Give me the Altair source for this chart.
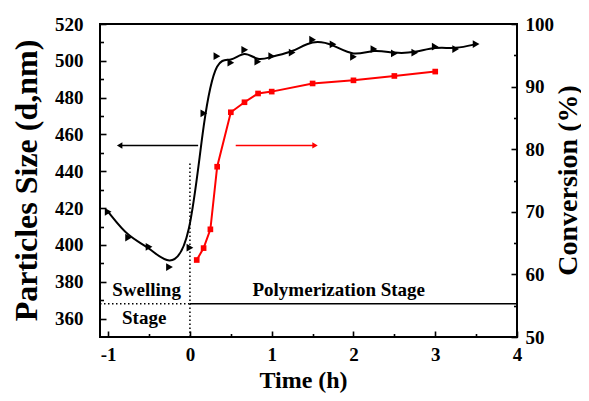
import altair as alt
import pandas as pd

FONT = "Liberation Serif, Times New Roman, serif"

# ---- data ----
time_size = [-1.0, -0.75, -0.5, -0.25, 0.0, 0.17, 0.33, 0.5, 0.67, 0.83, 1.0,
             1.25, 1.5, 1.75, 2.0, 2.25, 2.5, 2.75, 3.0, 3.25, 3.5]
particle_size = [418, 404, 399, 388, 398.5, 471.5, 502.5, 499, 506, 499.5, 502.5,
                 504.5, 511.5, 509, 502.2, 506.4, 504, 504.4, 507.7, 506.4, 509.1]

time_conv = [0.083, 0.167, 0.25, 0.333, 0.5, 0.667, 0.833, 1.0, 1.5, 2.0, 2.5, 3.0]
conversion = [62.3, 64.2, 67.2, 77.2, 85.9, 87.5, 88.9, 89.2, 90.5, 91.0, 91.7, 92.4]

# axis values
x_domain = [-1.1, 4]
size_domain = [350, 520]
conv_domain = [50, 100]
x_ticks = [-1, 0, 1, 2, 3, 4]
x_minor = [-0.5, 0.5, 1.5, 2.5, 3.5]
size_ticks = [360, 380, 400, 420, 440, 460, 480, 500, 520]
size_minor = [370, 390, 410, 430, 450, 470, 490, 510]
conv_ticks = [50, 60, 70, 80, 90, 100]
conv_minor = [55, 65, 75, 85, 95]

# annotations
black_arrow_t = [0.1, -0.86]      # tail, head
black_arrow_size = 454
red_arrow_t = [0.56, 1.53]        # tail, head
red_arrow_conv = 80.6
divider_t = 0
divider_top = 445
stage_line_size = 368
label_texts = ["Swelling", "Stage", "Polymerization Stage"]
label_t = [-0.53, -0.56, 1.82]
label_size = [375.3, 360.3, 375.3]

# ---- tables ----
df_size = pd.DataFrame({"t": time_size, "v": particle_size})
df_conv = pd.DataFrame({"t": time_conv, "v": conversion})
df_barrow = pd.DataFrame({"t": black_arrow_t, "v": [black_arrow_size] * 2})
df_rarrow = pd.DataFrame({"t": red_arrow_t, "v": [red_arrow_conv] * 2})
df_bhead = df_barrow.iloc[[1]]
df_rhead = df_rarrow.iloc[[1]]
df_vdiv = pd.DataFrame({"t": [divider_t], "v": [size_domain[0]], "v2": [divider_top]})
df_hdot = pd.DataFrame({"t": [x_domain[0]], "t2": [divider_t], "v": [stage_line_size]})
df_hsolid = pd.DataFrame({"t": [divider_t], "t2": [x_domain[1]], "v": [stage_line_size]})
df_text = pd.DataFrame({"t": label_t, "v": label_size, "txt": label_texts})

xs = alt.Scale(domain=x_domain, nice=False, zero=False)
ysL = alt.Scale(domain=size_domain, nice=False, zero=False)
ysR = alt.Scale(domain=conv_domain, nice=False, zero=False)


def axis(orient, values, labels=False, tick_size=0, offset=0, title=None, **kw):
    d = dict(orient=orient, values=values, labels=labels, domain=False, grid=False,
             labelFont=FONT, labelFontSize=19, labelFontWeight="bold",
             labelColor="black", labelFlush=False, labelExpr="'' + datum.value",
             tickColor="black", tickWidth=1.6, title=title,
             titleFont=FONT, titleFontWeight="bold", titleColor="black")
    if tick_size:
        d["ticks"] = True
        d["tickSize"] = tick_size
    else:
        d["ticks"] = False
    if offset:
        d["offset"] = offset
    d.update(kw)
    return alt.Axis(**d)


# bottom
ax_x_labels = axis("bottom", x_ticks, labels=True, labelPadding=8, title="Time (h)",
                   titleFontSize=24, titleX=203, titleY=43, titleBaseline="middle",
                   titleAlign="center")
ax_x_major = axis("bottom", x_ticks, tick_size=6, offset=-6)
ax_x_minor = axis("bottom", x_minor, tick_size=3.5, offset=-3.5)
# left
ax_l_labels = axis("left", size_ticks, labels=True, labelPadding=17,
                   title="Particles Size (d,nm)", titleFontSize=32, titleX=-74,
                   titleY=156, titleBaseline="middle", titleAlign="center", titleAngle=270)
ax_l_major = axis("left", size_ticks, tick_size=6, offset=-6)
ax_l_minor = axis("left", size_minor, tick_size=3.5, offset=-3.5)
# right
ax_r_labels = axis("right", conv_ticks, labels=True, labelPadding=8,
                   title="Conversion (%)", titleFontSize=28, titleX=51,
                   titleY=156, titleBaseline="middle", titleAlign="center", titleAngle=270)
ax_r_major = axis("right", conv_ticks, tick_size=6, offset=-6)
ax_r_minor = axis("right", conv_minor, tick_size=3.5, offset=-3.5)

black_line = alt.Chart(df_size).mark_line(color="black", strokeWidth=2, interpolate="basis").encode(
    x=alt.X("t:Q", scale=xs, axis=ax_x_labels),
    y=alt.Y("v:Q", scale=ysL, axis=ax_l_labels),
)
black_pts = alt.Chart(df_size).mark_point(shape="triangle-right", filled=True, size=60,
                                          color="black", opacity=1).encode(
    x=alt.X("t:Q", scale=xs, axis=ax_x_major),
    y=alt.Y("v:Q", scale=ysL, axis=ax_l_major),
)
red_line = alt.Chart(df_conv).mark_line(color="#ff0000", strokeWidth=2).encode(
    x=alt.X("t:Q", scale=xs, axis=ax_x_minor),
    y=alt.Y("v:Q", scale=ysR, axis=ax_r_labels),
)
red_pts = alt.Chart(df_conv).mark_square(size=32, color="#ff0000", opacity=1).encode(
    x=alt.X("t:Q", scale=xs, axis=None),
    y=alt.Y("v:Q", scale=ysR, axis=ax_r_major),
)
b_arrow = alt.Chart(df_barrow).mark_line(color="black", strokeWidth=1.5).encode(
    x=alt.X("t:Q", scale=xs, axis=None),
    y=alt.Y("v:Q", scale=ysL, axis=ax_l_minor),
)
b_head = alt.Chart(df_bhead).mark_point(shape="triangle-left", filled=True, size=40,
                                         color="black", opacity=1).encode(
    x=alt.X("t:Q", scale=xs, axis=None),
    y=alt.Y("v:Q", scale=ysL, axis=None),
)
r_arrow = alt.Chart(df_rarrow).mark_line(color="#ff0000", strokeWidth=1.5).encode(
    x=alt.X("t:Q", scale=xs, axis=None),
    y=alt.Y("v:Q", scale=ysR, axis=ax_r_minor),
)
r_head = alt.Chart(df_rhead).mark_point(shape="triangle-right", filled=True, size=40,
                                         color="#ff0000", opacity=1).encode(
    x=alt.X("t:Q", scale=xs, axis=None),
    y=alt.Y("v:Q", scale=ysR, axis=None),
)
v_div = alt.Chart(df_vdiv).mark_rule(color="black", strokeWidth=1.5, strokeDash=[1.5, 2.5]).encode(
    x=alt.X("t:Q", scale=xs, axis=None),
    y=alt.Y("v:Q", scale=ysL, axis=None),
    y2="v2:Q",
)
h_dot = alt.Chart(df_hdot).mark_rule(color="black", strokeWidth=1.5, strokeDash=[1.5, 2.5]).encode(
    x=alt.X("t:Q", scale=xs, axis=None),
    x2="t2:Q",
    y=alt.Y("v:Q", scale=ysL, axis=None),
)
h_solid = alt.Chart(df_hsolid).mark_rule(color="black", strokeWidth=1.5).encode(
    x=alt.X("t:Q", scale=xs, axis=None),
    x2="t2:Q",
    y=alt.Y("v:Q", scale=ysL, axis=None),
)
texts = alt.Chart(df_text).mark_text(font=FONT, fontSize=19, fontWeight="bold", color="black",
                                     align="center", baseline="middle").encode(
    x=alt.X("t:Q", scale=xs, axis=None),
    y=alt.Y("v:Q", scale=ysL, axis=None),
    text="txt:N",
)

chart = (
    alt.layer(v_div, h_dot, h_solid, texts, r_arrow, r_head, b_arrow, b_head,
              red_line, red_pts, black_line, black_pts)
    .resolve_scale(y="independent")
    .resolve_axis(x="independent", y="independent")
    .properties(width=417, height=313,
                autosize=alt.AutoSizeParams(type="none"),
                padding={"left": 92, "top": 16, "right": 64, "bottom": 56},
                background="white")
    .configure(font=FONT)
    .configure_axis(labelFont=FONT, titleFont=FONT)
    .configure_text(font=FONT)
    .configure_view(stroke="black", strokeWidth=2)
)

chart.save("out.html", embed_options={"renderer": "svg", "actions": False})
